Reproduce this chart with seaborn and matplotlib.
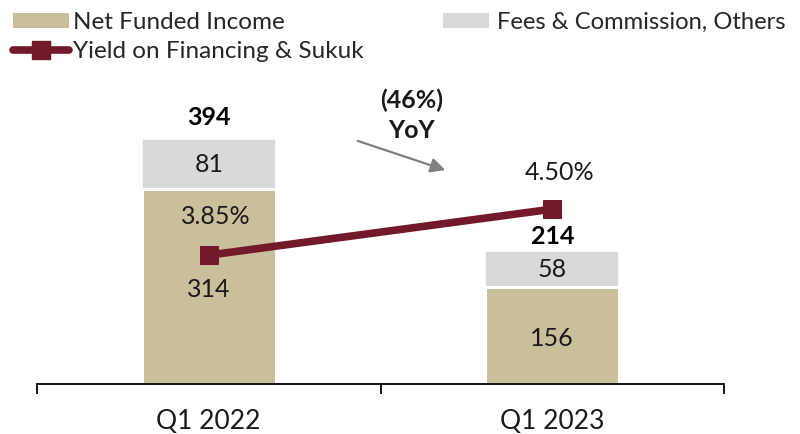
import matplotlib
matplotlib.use("Agg")
import matplotlib.pyplot as plt
from matplotlib.patches import Patch
from matplotlib.lines import Line2D
import seaborn as sns
import pandas as pd

categories = ["Q1 2022", "Q1 2023"]
net_funded = [314, 156]
fees_other = [81, 58]
totals = [394, 214]
yield_pct = [3.85, 4.50]
yoy_label = "(46%)\nYoY"

TAN = "#C9C09B"
GRAY = "#D9D9D9"
MAROON = "#731A2A"

sns.set_theme(style="white")
plt.rcParams["font.family"] = ["Lato", "DejaVu Sans"]

fig = plt.figure(figsize=(8.0, 4.34), dpi=100)
ax = fig.add_axes([37/800, 50/434, (724-37)/800, (384-80)/434])

df = pd.DataFrame({"cat": categories, "net": net_funded,
                   "fees": fees_other, "total": [n + f for n, f in zip(net_funded, fees_other)]})

sns.barplot(data=df, x="cat", y="total", color=GRAY, width=0.39, ax=ax,
            edgecolor="white", linewidth=1.2, saturation=1)
sns.barplot(data=df, x="cat", y="net", color=TAN, width=0.39, ax=ax,
            edgecolor="white", linewidth=2.2, saturation=1)

ax.set_xlim(-0.5, 1.5)
ax.set_ylim(0, 490)
ax.set_xlabel("")
ax.set_ylabel("")
ax.set_yticks([])
for s in ["top", "right", "left"]:
    ax.spines[s].set_visible(False)
ax.spines["bottom"].set_color("black")
ax.spines["bottom"].set_linewidth(1.3)
ax.set_xticks([-0.5, 0.5, 1.5], minor=False)
ax.set_xticklabels(["", "", ""])
ax.tick_params(axis="x", which="major", direction="out", length=7, width=1.3, color="black", bottom=True)
for i, c in enumerate(categories):
    ax.text(i, -60, c, ha="center", va="center", fontsize=19, color="#1a1a1a")

fs = 18
top_off = [35, 23]
for i in range(len(categories)):
    n, f, t = net_funded[i], fees_other[i], totals[i]
    ax.text(i, n + f / 2, f"{f}", ha="center", va="center", fontsize=fs, color="#1a1a1a")
    ax.text(i, t + top_off[i], f"{t}", ha="center", va="center", fontsize=fs, fontweight="bold", color="black")
ax.text(0, 152, f"{net_funded[0]}", ha="center", va="center", fontsize=fs, color="#1a1a1a")
ax.text(1, net_funded[1] / 2 - 5, f"{net_funded[1]}", ha="center", va="center", fontsize=fs, color="#1a1a1a")

ax2 = ax.twinx()
ax2.set_ylim(2.03, 2.03 + 304 / 70.8)
sns.lineplot(x=[0, 1], y=yield_pct, ax=ax2, color=MAROON, linewidth=5.5,
             marker="s", markersize=13, markeredgecolor=MAROON)
ax2.set_yticks([])
for s in ["top", "right", "left", "bottom"]:
    ax2.spines[s].set_visible(False)
ax2.set_xlim(-0.5, 1.5)
pct_off = [0.55, 0.52]
for i, v in enumerate(yield_pct):
    ax2.text(i + 0.02, v + pct_off[i], f"{v:.2f}%", ha="center", va="center", fontsize=fs, color="#1a1a1a")

# YoY annotation
fig.text(412/800, 1 - 115/434, yoy_label, ha="center", va="center", fontsize=18,
         fontweight="bold", linespacing=1.35, color="#1a1a1a")
ax.annotate("", xy=(448/800, 1 - 171/434), xytext=(355/800, 1 - 140/434),
            xycoords="figure fraction", textcoords="figure fraction",
            arrowprops=dict(arrowstyle="-|>", color="#808080", lw=1.6, mutation_scale=22))

# legends
h1 = [Patch(facecolor=TAN, edgecolor="none"),
      Line2D([0], [0], color=MAROON, lw=5.5, marker="s", markersize=13)]
leg1 = fig.legend(h1, ["Net Funded Income", "Yield on Financing & Sukuk"],
                  loc="upper left", bbox_to_anchor=(3.5/800, 0.995), frameon=False,
                  fontsize=17.5, handlelength=2.3, handleheight=0.55, handletextpad=0.15,
                  labelspacing=0.35, borderaxespad=0)
leg2 = fig.legend([Patch(facecolor=GRAY, edgecolor="none")], ["Fees & Commission, Others"],
                  loc="upper left", bbox_to_anchor=(433/800, 0.995), frameon=False,
                  fontsize=17.1, handlelength=1.95, handleheight=0.57, handletextpad=0.33,
                  borderaxespad=0)

fig.savefig("out.png", dpi=100)
